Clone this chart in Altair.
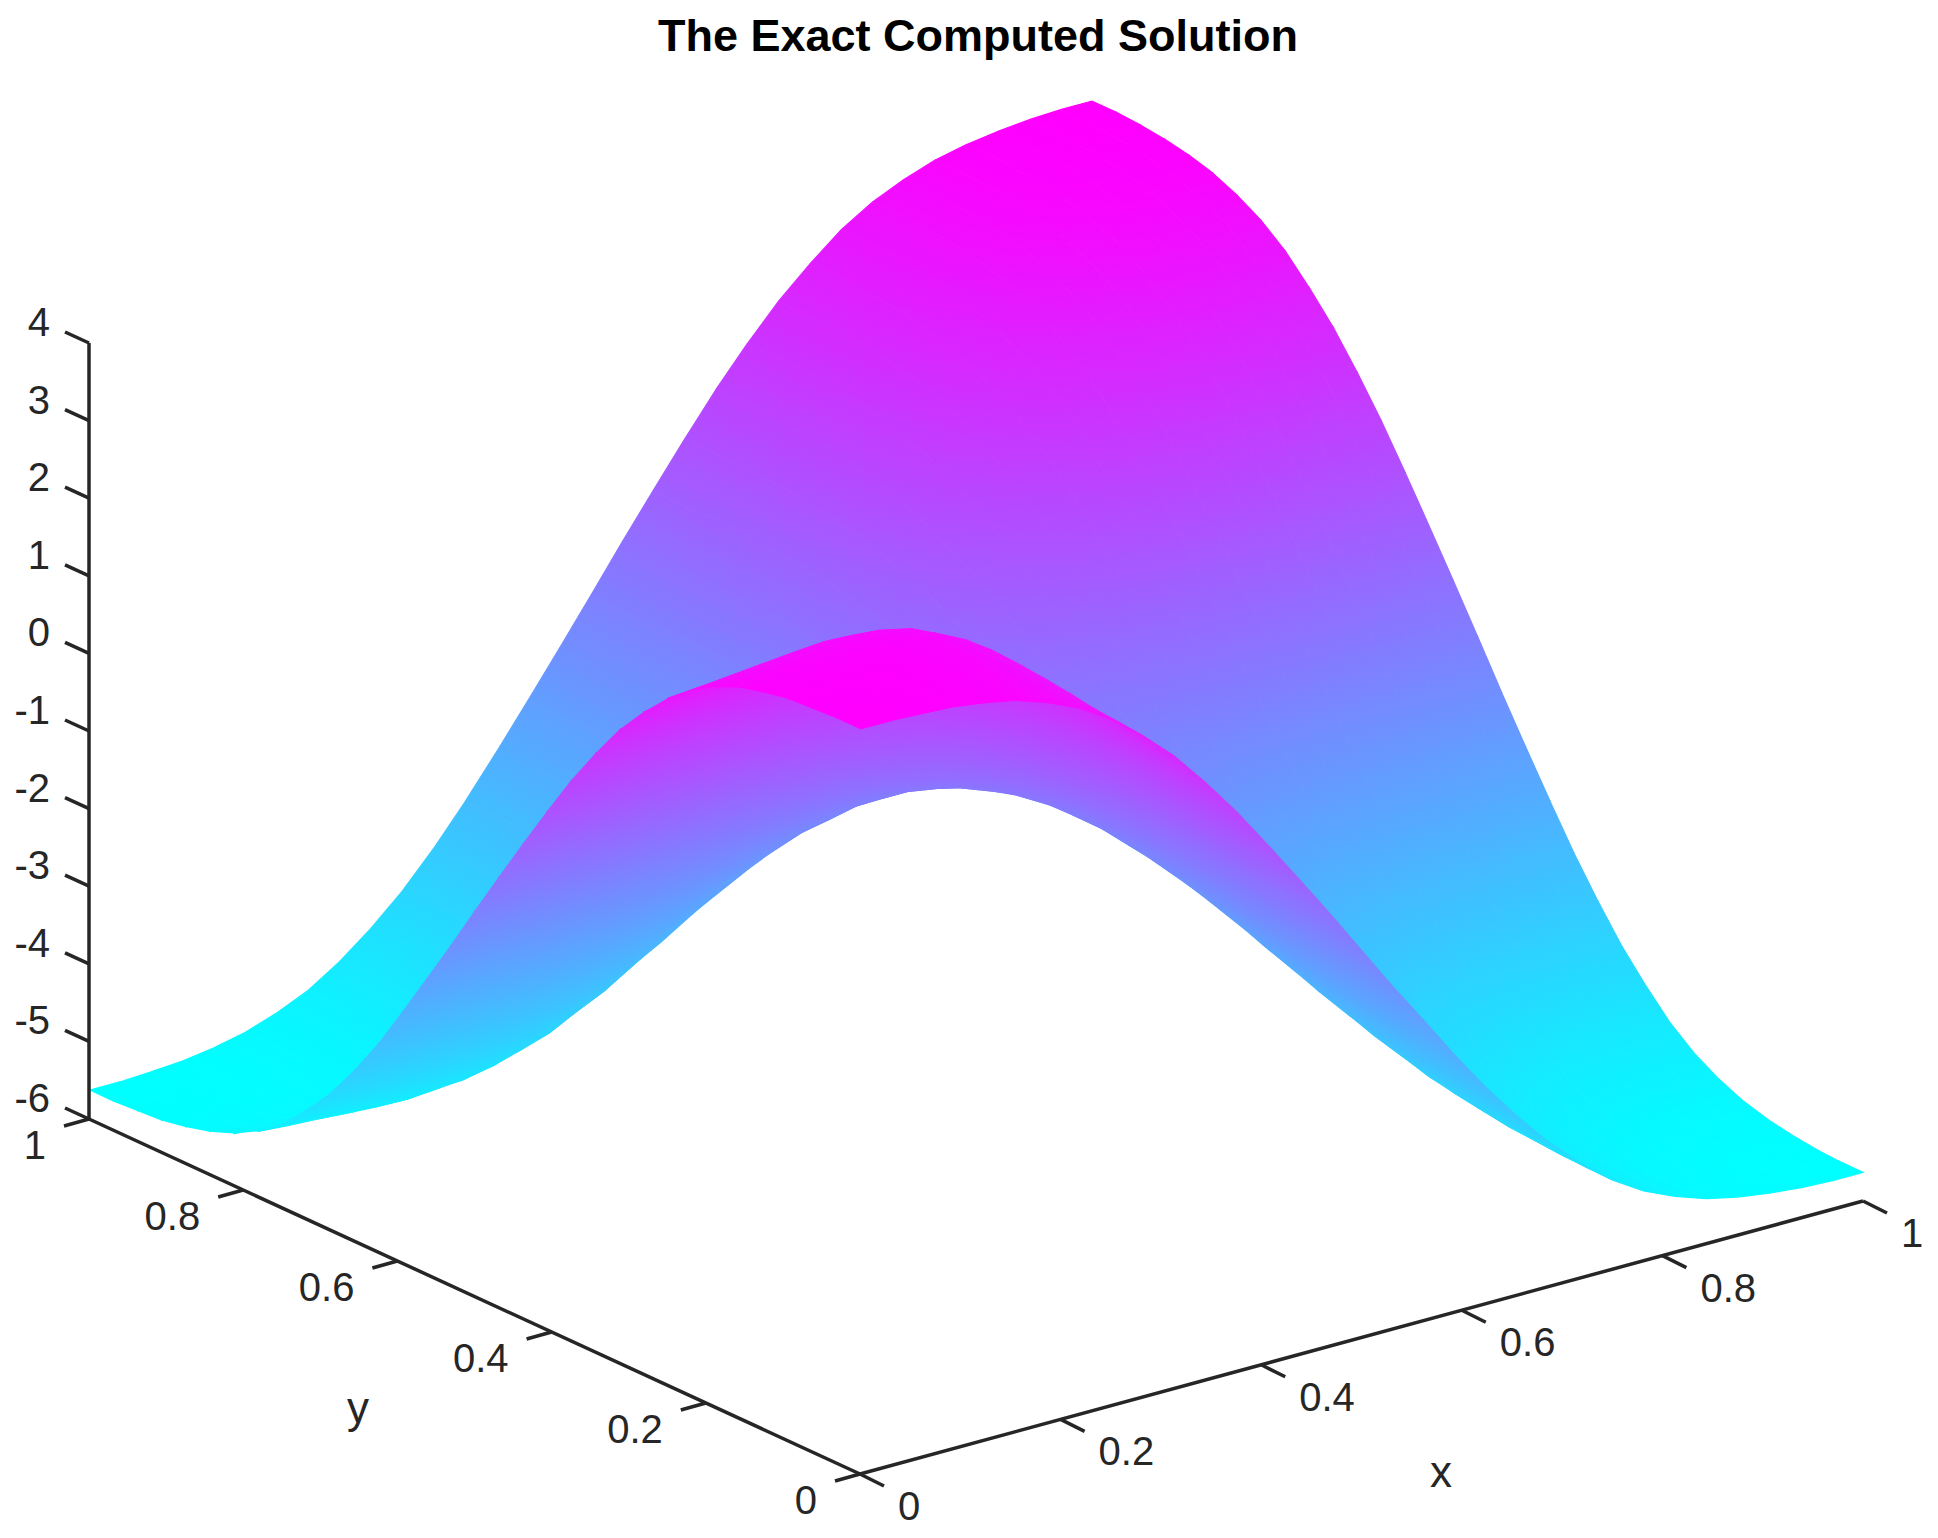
import altair as alt
import numpy as np
import pandas as pd

title = "The Exact Computed Solution"
x_ticks = [0, 0.2, 0.4, 0.6, 0.8, 1]
y_ticks = [0, 0.2, 0.4, 0.6, 0.8, 1]
z_ticks = [-6, -5, -4, -3, -2, -1, 0, 1, 2, 3, 4]

# surface height in hundredths, one row per y step (y=0 first), one column per x step
z_rows = [
    [360,360,358,356,350,342,328,310,285,253,216,171,122,68,13,-43,-101,-159,-214,-270,-323,-371,-415,-452,-485,-510,-528,-542,-551,-557,-561,-563,-563],
    [360,360,359,356,351,343,331,313,288,256,218,173,124,70,13,-43,-101,-159,-214,-270,-323,-371,-415,-452,-484,-510,-528,-542,-551,-557,-560,-562,-563],
    [358,359,358,356,352,345,333,316,292,259,221,176,126,71,14,-42,-100,-158,-214,-269,-322,-370,-414,-450,-483,-508,-526,-540,-549,-555,-558,-560,-561],
    [356,356,356,355,352,346,336,320,296,264,226,180,128,73,15,-41,-100,-158,-213,-268,-320,-368,-412,-448,-480,-505,-523,-537,-546,-552,-555,-557,-557],
    [350,351,352,352,351,346,337,323,300,268,230,183,131,74,16,-41,-99,-156,-211,-265,-317,-365,-407,-443,-475,-500,-518,-531,-540,-546,-549,-551,-551],
    [342,343,345,346,346,344,337,324,303,271,233,185,132,75,17,-40,-98,-155,-209,-262,-313,-359,-401,-436,-467,-492,-509,-522,-531,-537,-540,-542,-542],
    [328,331,333,336,337,337,332,321,301,270,232,184,131,74,16,-40,-97,-153,-205,-257,-306,-351,-392,-426,-456,-479,-496,-509,-518,-523,-526,-528,-528],
    [310,313,316,320,323,324,321,312,293,264,226,179,127,71,14,-41,-96,-150,-200,-250,-297,-340,-379,-412,-440,-463,-479,-492,-500,-505,-508,-510,-510],
    [285,288,292,296,300,303,301,293,276,248,212,167,117,63,9,-44,-96,-147,-194,-241,-285,-325,-362,-393,-419,-440,-456,-467,-475,-480,-483,-484,-485],
    [253,256,259,264,268,271,270,264,248,223,190,148,101,51,0,-48,-96,-143,-186,-229,-270,-307,-340,-368,-393,-412,-426,-436,-443,-448,-450,-452,-452],
    [216,218,221,226,230,232,232,226,212,189,160,122,80,35,-10,-53,-97,-138,-177,-216,-252,-285,-315,-340,-362,-379,-392,-401,-407,-412,-414,-415,-415],
    [171,173,176,179,183,185,184,179,167,147,122,90,54,16,-23,-60,-97,-133,-167,-200,-231,-259,-285,-307,-326,-340,-351,-359,-365,-368,-370,-371,-371],
    [122,123,125,128,130,131,130,126,116,100,80,54,25,-6,-38,-68,-98,-128,-155,-182,-208,-231,-252,-270,-285,-298,-306,-313,-317,-320,-322,-323,-323],
    [68,69,70,72,73,73,72,69,61,49,34,15,-7,-30,-54,-76,-99,-121,-142,-163,-182,-200,-216,-230,-241,-251,-257,-262,-266,-268,-269,-270,-270],
    [12,12,12,13,13,13,12,10,5,-3,-12,-25,-39,-54,-70,-85,-100,-115,-129,-143,-156,-168,-178,-187,-195,-202,-206,-209,-212,-213,-214,-214,-215],
    [-45,-45,-45,-46,-46,-47,-47,-48,-50,-53,-58,-63,-70,-78,-85,-93,-101,-108,-115,-122,-129,-135,-141,-145,-149,-153,-155,-157,-158,-158,-159,-159,-159],
    [-103,-104,-106,-107,-108,-109,-109,-108,-107,-105,-104,-102,-102,-101,-101,-101,-101,-101,-101,-101,-101,-101,-101,-101,-101,-101,-101,-101,-101,-101,-101,-101,-101],
    [-162,-164,-167,-169,-171,-171,-170,-168,-163,-156,-149,-141,-133,-124,-117,-109,-102,-94,-87,-80,-74,-68,-62,-58,-54,-50,-48,-46,-45,-45,-44,-44,-44],
    [-219,-222,-225,-229,-231,-232,-230,-225,-217,-205,-192,-177,-162,-147,-131,-117,-102,-88,-74,-60,-47,-35,-25,-16,-8,-1,3,6,9,10,11,11,12],
    [-276,-280,-284,-288,-292,-293,-290,-283,-271,-254,-235,-214,-191,-168,-146,-124,-102,-81,-60,-40,-21,-3,13,27,38,48,54,59,63,65,66,67,67],
    [-331,-335,-340,-345,-349,-350,-346,-336,-321,-300,-275,-248,-219,-189,-160,-131,-102,-74,-47,-21,5,28,49,67,82,95,103,110,114,117,119,120,120],
    [-380,-385,-390,-396,-400,-400,-395,-384,-365,-340,-311,-278,-243,-208,-172,-137,-103,-68,-36,-3,28,56,82,104,123,137,148,156,162,165,167,168,168],
    [-424,-429,-434,-440,-443,-443,-436,-423,-402,-374,-341,-304,-265,-224,-183,-143,-103,-63,-25,13,49,82,112,137,159,176,189,198,204,209,211,212,212],
    [-460,-465,-470,-475,-477,-476,-468,-454,-431,-400,-365,-325,-282,-237,-192,-147,-103,-58,-16,26,67,104,137,165,190,209,223,233,240,245,247,249,249],
    [-492,-495,-499,-503,-504,-501,-492,-477,-453,-421,-384,-341,-296,-248,-199,-151,-102,-54,-8,38,82,123,159,190,216,237,253,264,272,277,280,281,282],
    [-516,-519,-521,-524,-523,-519,-509,-492,-467,-434,-397,-353,-306,-256,-204,-154,-102,-51,-2,48,95,137,176,209,237,260,276,289,297,302,305,307,307],
    [-533,-535,-536,-537,-535,-529,-518,-501,-475,-443,-405,-361,-313,-261,-208,-156,-102,-48,3,54,103,148,189,223,253,276,293,306,315,320,323,325,325],
    [-545,-546,-547,-546,-543,-536,-524,-506,-481,-448,-410,-366,-317,-265,-211,-157,-102,-47,6,59,110,156,198,233,264,289,306,319,328,334,337,339,339],
    [-553,-554,-553,-552,-548,-540,-527,-509,-483,-451,-413,-369,-320,-267,-213,-158,-102,-45,9,63,114,162,204,240,272,297,315,328,337,343,346,348,348],
    [-559,-559,-558,-555,-550,-542,-529,-510,-485,-452,-415,-371,-322,-269,-214,-159,-102,-45,10,65,117,165,209,245,277,302,320,334,343,349,352,354,354],
    [-561,-561,-560,-557,-552,-543,-529,-511,-485,-453,-415,-371,-323,-270,-214,-159,-102,-44,11,66,119,167,211,247,280,305,323,337,346,352,355,357,358],
    [-563,-563,-561,-558,-552,-543,-529,-511,-485,-453,-416,-372,-323,-270,-215,-159,-102,-44,11,67,120,168,212,249,281,307,325,339,348,354,357,359,360],
    [-563,-563,-561,-558,-552,-543,-529,-511,-485,-453,-416,-372,-323,-270,-215,-159,-102,-44,12,67,120,168,212,249,282,307,325,339,348,354,358,360,360],
]

Z = np.array(z_rows) / 100
n = Z.shape[0]
grid = np.linspace(0, 1, n)
zmin, zmax = Z.min(), Z.max()

# the box as it sits on the page, axes stay parallel so this is all the view there is
ORIGIN = np.array([860.0, 1474.0])
EX = np.array([1003.0, -273.0])
EY = np.array([-771.0, -355.0])
EZ = np.array([0.0, -77.6])


def project(x, y, z):
    return ORIGIN + x * EX + y * EY + (z + 6) * EZ


def cool(t):
    t = min(max(t, 0), 1)
    return "#%02x%02x%02x" % (round(255 * t), round(255 * (1 - t)), 255)


def quad_fill(pts, ts):
    # linear gradient across one cell, in the cell's bounding box units
    pts = np.array(pts)
    ts = np.array(ts)
    lo, hi = pts.min(axis=0), pts.max(axis=0)
    span = hi - lo
    if span.min() < 1e-6 or ts.max() - ts.min() < 1e-3:
        return cool(ts.mean())
    uv = (pts - lo) / span
    coef, _, rank, _ = np.linalg.lstsq(np.c_[np.ones(4), uv], ts, rcond=None)
    slope = coef[1:]
    size = np.hypot(*slope)
    if rank < 3 or size < 1e-6:
        return cool(ts.mean())
    d = slope / size
    c = uv.mean(axis=0)
    t1, t2 = ts.min(), ts.max()
    a = c + d * (t1 - ts.mean()) / size
    b = c + d * (t2 - ts.mean()) / size
    if np.abs(np.r_[a, b]).max() > 6:
        return cool(ts.mean())
    return {
        "gradient": "linear",
        "x1": round(a[0], 3), "y1": round(a[1], 3), "x2": round(b[0], 3), "y2": round(b[1], 3),
        "stops": [{"offset": 0, "color": cool(t1)}, {"offset": 1, "color": cool(t2)}],
    }


# far cells first so nearer ones paint over them
cells = []
for i in range(n - 1):
    for j in range(n - 1):
        corners = [(i, j), (i + 1, j), (i + 1, j + 1), (i, j + 1)]
        zs = [Z[b, a] for a, b in corners]
        mean_x = grid[i] + 0.5 / (n - 1)
        mean_y = grid[j] + 0.5 / (n - 1)
        cells.append((771 * mean_x + 1003 * mean_y - 7301 * np.mean(zs), corners, zs))
cells.sort(key=lambda c: -c[0])

rows = []
for cell_id, (_, corners, zs) in enumerate(cells):
    pts = [project(grid[a], grid[b], Z[b, a]) for a, b in corners]
    shade = quad_fill(pts, [(v - zmin) / (zmax - zmin) for v in zs])
    for k, pt in enumerate(pts):
        rows.append({"cell": cell_id, "k": k, "sx": float(pt[0]), "sy": float(pt[1]), "shade": shade})

X = alt.X("sx:Q", scale=alt.Scale(domain=[8, 1930], nice=False, zero=False), axis=None)
Y = alt.Y("sy:Q", scale=alt.Scale(domain=[1530, 8], nice=False, zero=False), axis=None)

surface = (
    alt.Chart(alt.Data(values=rows))
    .mark_line(filled=True, strokeWidth=1.2)
    .encode(
        x=X,
        y=Y,
        order="k:Q",
        detail="cell:O",
        fill=alt.Fill("shade:N", scale=None),
        stroke=alt.Stroke("shade:N", scale=None),
    )
)

# axes and ticks
segs = [
    (project(0, 0, -6), project(1, 0, -6)),
    (project(0, 0, -6), project(0, 1, -6)),
    (project(0, 1, -6), project(0, 1, 4)),
]
labels = []
for v in x_ticks:
    a = project(v, 0, -6)
    segs.append((a, a + np.array([24, 12])))
    labels.append({"sx": a[0] + 38, "sy": a[1] + 34, "t": f"{v:g}", "al": "left"})
for v in y_ticks:
    a = project(0, v, -6)
    segs.append((a, a + np.array([-25, 7])))
    labels.append({"sx": a[0] - 43, "sy": a[1] + 28, "t": f"{v:g}", "al": "right"})
for v in z_ticks:
    a = project(0, 1, v)
    segs.append((a, a + np.array([-24, -11])))
    labels.append({"sx": a[0] - 39, "sy": a[1] - 19, "t": f"{v:g}", "al": "right"})

seg_df = pd.DataFrame([{"sx": a[0], "sy": a[1], "sx2": b[0], "sy2": b[1]} for a, b in segs])
axes = (
    alt.Chart(seg_df)
    .mark_rule(color="#262626", strokeWidth=3.5)
    .encode(x=X, y=Y, x2="sx2:Q", y2="sy2:Q")
)
label_df = pd.DataFrame(labels)


def text_layer(df, align, size=40, weight="normal", color="#262626"):
    return (
        alt.Chart(df)
        .mark_text(font="Liberation Sans", fontSize=size, fontWeight=weight, align=align, baseline="middle", color=color)
        .encode(x=X, y=Y, text="t:N")
    )


tick_text = text_layer(label_df[label_df.al == "left"], "left") + text_layer(label_df[label_df.al == "right"], "right")
axis_names = text_layer(pd.DataFrame([{"sx": 1441, "sy": 1474, "t": "x"}, {"sx": 358, "sy": 1410, "t": "y"}]), "center", size=44)
title_text = text_layer(pd.DataFrame([{"sx": 978, "sy": 37, "t": title}]), "center", size=45, weight="bold", color="#000000")

chart = (surface + axes + tick_text + axis_names + title_text).properties(
    width=1922, height=1522, padding=0, background="#ffffff"
).configure_view(strokeWidth=0)

chart.save("out.html", embed_options={"renderer": "svg", "actions": False})
